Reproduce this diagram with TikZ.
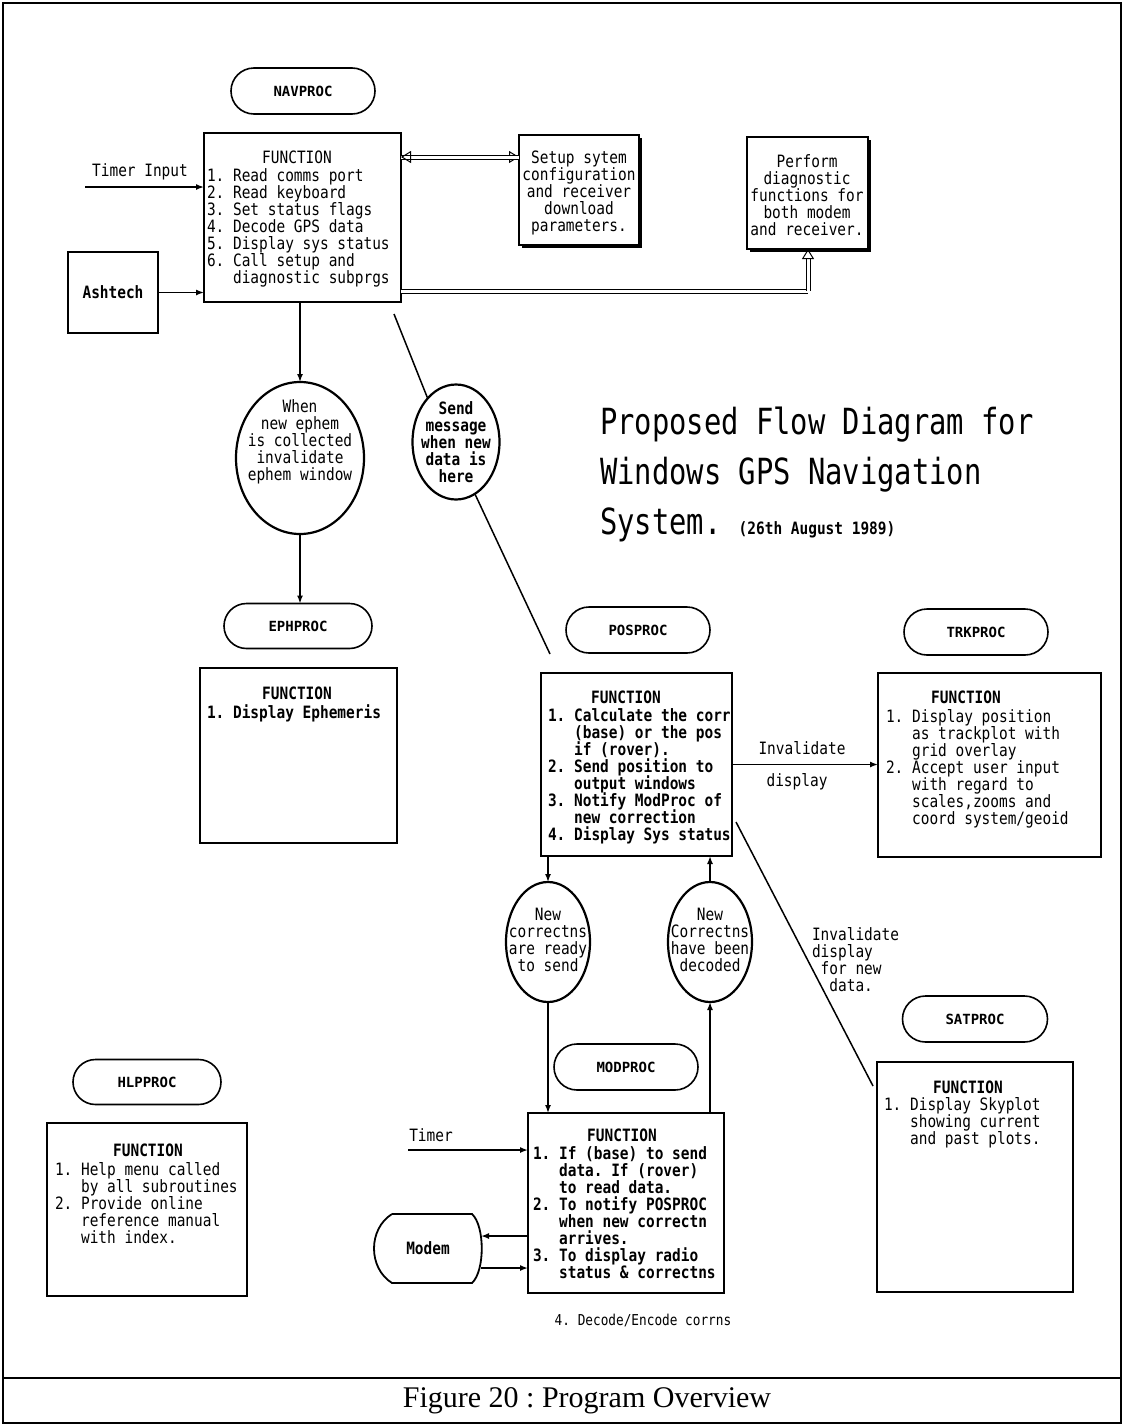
\documentclass[tikz,border=0pt]{standalone}
\usepackage{fontspec}
\setmainfont{Liberation Serif}
\newfontfamily\dm[FakeStretch=0.85]{DejaVu Sans Mono}
\newfontfamily\dmlab{DejaVu Sans Mono}
\newfontfamily\dmwide[FakeStretch=0.8]{DejaVu Sans Mono}
\usetikzlibrary{shapes.misc,shapes.geometric,arrows.meta,calc,shadows}
\frenchspacing
% keep list lines evenly spaced even where brackets reach below the baseline
\lineskiplimit=-50pt
\lineskip=0pt

% hanging indent for continued list items
\newcommand\hg{\hphantom{1.~}}

\begin{document}
\begin{tikzpicture}[x=1pt,y=-1pt,
  every node/.style={inner sep=0pt, outer sep=0pt},
  box/.style={draw, fill=white, line width=2.2pt, rectangle, anchor=north west},
  sbox/.style={box, drop shadow={shadow xshift=3pt, shadow yshift=-3pt, fill=black, opacity=1}},
  term/.style={draw, line width=1.6pt, rounded rectangle, minimum width=144pt, minimum height=46pt,
    font=\dmlab\bfseries\fontsize{14}{16}\selectfont},
  oval/.style={draw, line width=2.2pt, ellipse},
  txt/.style={font=\dm\fontsize{17}{17}\selectfont, align=left, anchor=north west},
  btxt/.style={txt, font=\dm\bfseries\fontsize{17}{17}\selectfont},
  ctxt/.style={font=\dm\fontsize{17}{17}\selectfont, align=center},
  bctxt/.style={ctxt, font=\dm\bfseries\fontsize{17}{17}\selectfont},
  wire/.style={line width=1.5pt},
  arr/.style={wire, -{Latex[length=8pt,width=6pt]}},
  dbl/.style={double, line width=1pt, double distance=3pt},
  otip/.style={-{Triangle[open,length=10pt,width=12pt]}},
]
\useasboundingbox (0,0) rectangle (1125,1427);

% page frame and caption strip
\draw[line width=1.5pt] (3,3) rectangle (1121,1423);
\draw[line width=2pt] (3,1378) -- (1121,1378);
\node[font=\fontsize{30}{32}\selectfont] (caption) at (587,1401) {Figure 20 : Program Overview};

% ---------------- NAVPROC ----------------
\node[term] (nav) at (303,91) {NAVPROC};
\node[box, minimum width=197pt, minimum height=169pt] (navbox) at (204,133) {};
\node[ctxt] (navfn) at (297,157) {FUNCTION};
\node[txt] (navtxt) at (207,169) {1. Read comms port\\2. Read keyboard\\3. Set status flags\\4. Decode GPS data\\5. Display sys status\\6. Call setup and\\\hg diagnostic subprgs};

\node[box, minimum width=90pt, minimum height=81pt] (ash) at (68,252) {};
\node[bctxt] (ashtxt) at (ash.center) {Ashtech};

\coordinate (tin) at (85,187);
\node[ctxt] (tinlbl) at (140,172) {Timer Input};
\draw[arr] (tin) -- (tin -| navbox.west);
\draw[arr] (ash.east) -- (ash.east -| navbox.west);

\node[sbox, minimum width=120pt, minimum height=110pt] (setup) at (519,135) {};
\node[ctxt] (setuptxt) at (579,193) {Setup sytem\\configuration\\and receiver\\download\\parameters.};

\node[sbox, minimum width=121pt, minimum height=112pt] (diag) at (747,137) {};
\node[ctxt] (diagtxt) at (807,195) {Perform\\diagnostic\\functions for\\both modem\\and receiver.};

\coordinate (dtop) at (0,157);
\draw[dbl, otip] (navbox.east |- dtop) -- (setup.west |- dtop);
\draw[dbl, otip] (setup.west |- dtop) -- (navbox.east |- dtop);
\coordinate (dbot) at (808,291);
\draw[dbl] (navbox.east |- dbot) -- (dbot);
\draw[dbl, otip] (dbot) -- (dbot |- diag.south);

% ---------------- EPHPROC ----------------
\node[oval, minimum width=128pt, minimum height=152pt] (e1) at (300,458) {};
\node[ctxt] (e1txt) at (300,442) {When\\new ephem\\is collected\\invalidate\\ephem window};
\draw[arr] (e1.north |- navbox.south) -- (e1.north);

\node[term, minimum width=148pt, minimum height=45pt] (eph) at (298,626) {EPHPROC};
\draw[arr] (e1.south) -- (e1.south |- eph.north);
\node[box, minimum width=197pt, minimum height=175pt] (ephbox) at (200,668) {};
\node[bctxt] (ephfn) at (297,693) {FUNCTION};
\node[btxt] (ephtxt) at (207,705) {1. Display Ephemeris};

% ---------------- message to POSPROC ----------------
\node[oval, minimum width=87pt, minimum height=115pt] (e2) at (456,442) {};
\node[bctxt] (e2txt) at (456,442) {Send\\message\\when new\\data is\\here};
\coordinate (m1) at (394,314);
\coordinate (m2) at (550,654);
\draw[wire] (m1) -- (e2.123);
\draw[wire] (e2.-70) -- (m2);

% ---------------- title ----------------
\node[font=\dmwide\fontsize{36}{50}\selectfont, align=left, anchor=north west] (title) at (600,407)
  {Proposed Flow Diagram for\\Windows GPS Navigation\\System.\ {\dm\bfseries\fontsize{17}{17}\selectfont(26th August 1989)}};

% ---------------- POSPROC ----------------
\node[term] (pos) at (638,630) {POSPROC};
\node[box, minimum width=191pt, minimum height=183pt] (posbox) at (541,673) {};
\node[bctxt] (posfn) at (626,697) {FUNCTION};
\node[btxt] (postxt) at (548,709) {1. Calculate the corr\\\hg(base) or the pos\\\hg if (rover).\\2. Send position to\\\hg output windows\\3. Notify ModProc of\\\hg new correction\\4. Display Sys status};

% ---------------- TRKPROC ----------------
\node[term] (trk) at (976,632) {TRKPROC};
\node[box, minimum width=223pt, minimum height=184pt] (trkbox) at (878,673) {};
\node[bctxt] (trkfn) at (966,697) {FUNCTION};
\node[txt] (trktxt) at (886,709) {1. Display position\\\hg as trackplot with\\\hg grid overlay\\2. Accept user input\\\hg with regard to\\\hg scales,zooms and\\\hg coord system/geoid};

\draw[arr] (posbox.east) -- (posbox.east -| trkbox.west);
\node[ctxt] (invl1) at (802,748) {Invalidate};
\node[ctxt] (invl2) at (797,782) {display};

% ---------------- SATPROC ----------------
\node[term, minimum width=145pt] (sat) at (975,1019) {SATPROC};
\node[box, minimum width=196pt, minimum height=230pt] (satbox) at (877,1062) {};
\node[bctxt] (satfn) at (968,1087) {FUNCTION};
\node[txt] (sattxt) at (884,1097) {1. Display Skyplot\\\hg showing current\\\hg and past plots.};

\coordinate (s1) at (736,822);
\coordinate (s2) at (873,1086);
\draw[wire] (s1) -- (s2);
\node[txt] (invsat) at (812,927) {Invalidate\\display\\\hphantom{x}for new\\\hphantom{xx}data.};

% ---------------- corrections loop ----------------
\node[oval, minimum width=84pt, minimum height=120pt] (e3) at (548,942) {};
\node[ctxt] (e3txt) at (548,939.5) {New\\correctns\\are ready\\to send};
\node[oval, minimum width=84pt, minimum height=120pt] (e4) at (710,942) {};
\node[ctxt] (e4txt) at (710,939.5) {New\\Correctns\\have been\\decoded};

\draw[arr] (e3.north |- posbox.south) -- (e3.north);
\draw[arr] (e4.north) -- (e4.north |- posbox.south);

% ---------------- MODPROC ----------------
\node[term] (mod) at (626,1067) {MODPROC};
\node[box, minimum width=196pt, minimum height=180pt] (modbox) at (528,1113) {};
\node[bctxt] (modfn) at (622,1135) {FUNCTION};
\node[btxt] (modtxt) at (533,1147) {1. If (base) to send\\\hg data. If (rover)\\\hg to read data.\\2. To notify POSPROC\\\hg when new correctn\\\hg arrives.\\3. To display radio\\\hg status \& correctns};
\node[ctxt, font=\dm\fontsize{15}{15}\selectfont] (modnote) at (643,1320) {4. Decode/Encode corrns};

\draw[arr] (e3.south) -- (e3.south |- modbox.north);
\draw[arr] (e4.south |- modbox.north) -- (e4.south);

\coordinate (tm) at (408,1150);
\node[ctxt] (tmlbl) at (431,1135) {Timer};
\draw[arr] (tm) -- (tm -| modbox.west);

% modem outline: straight top and bottom, bowed ends
\node[minimum width=106pt, minimum height=70pt, font=\dm\bfseries\fontsize{17}{17}\selectfont] (modem) at (428,1248) {Modem};
\draw[line width=1.8pt] (392,1214) -- (472,1214)
  .. controls (485,1226) and (485,1271) .. (472,1283) -- (392,1283)
  .. controls (368,1268) and (368,1229) .. (392,1214);
\coordinate (mo1) at (0,1236);
\coordinate (mo2) at (0,1268);
\draw[arr] (modbox.west |- mo1) -- (modem.east |- mo1);
\draw[arr] (modem.east |- mo2) -- (modbox.west |- mo2);

% ---------------- HLPPROC ----------------
\node[term, minimum width=148pt, minimum height=45pt] (hlp) at (147,1082) {HLPPROC};
\node[box, minimum width=200pt, minimum height=173pt] (hlpbox) at (47,1123) {};
\node[bctxt] (hlpfn) at (148,1150) {FUNCTION};
\node[txt] (hlptxt) at (55,1162) {1. Help menu called\\\hg by all subroutines\\2. Provide online\\\hg reference manual\\\hg with index.};

\end{tikzpicture}
\end{document}
